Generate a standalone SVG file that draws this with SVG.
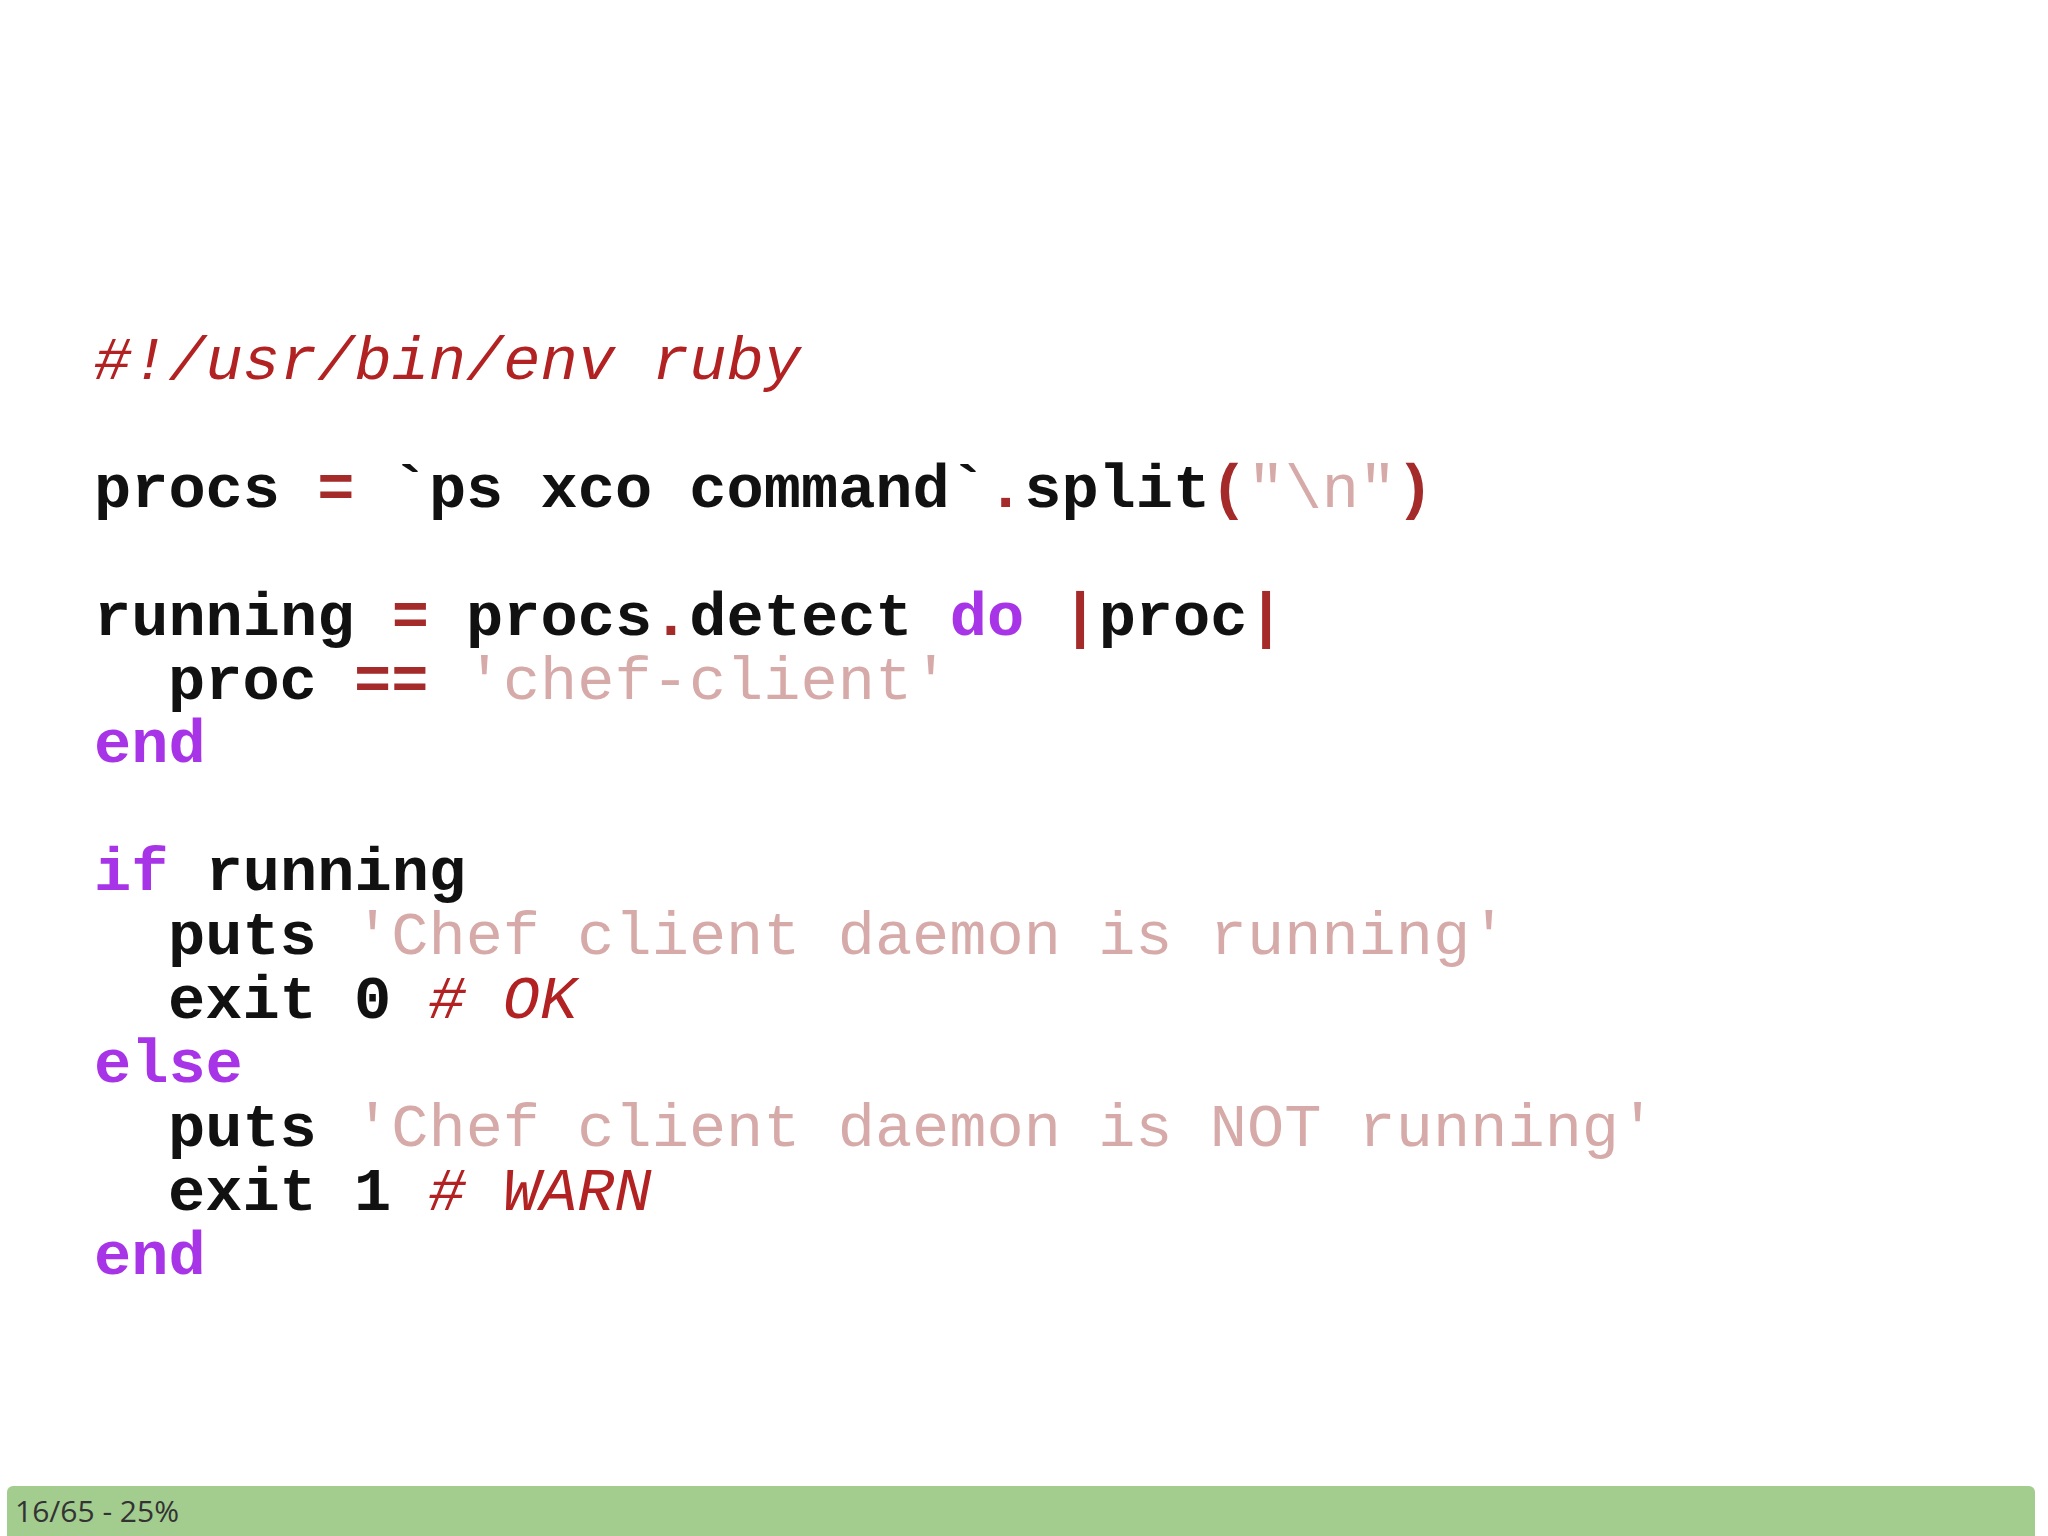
<svg xmlns="http://www.w3.org/2000/svg" width="2048" height="1536" viewBox="0 0 2048 1536">
<style>
.c{font-family:"Liberation Mono","Courier New",monospace;font-size:62px;font-weight:bold;fill:#111}
.cm{fill:#b22222;font-style:italic;font-weight:normal}
.kw{fill:#a834e8}
.st{fill:#d6aaa8;font-weight:normal}
.op{fill:#a52a2a}
</style>
<rect width="2048" height="1536" fill="#ffffff"/>
<g id="code" class="c">
<text x="94" y="379"><tspan class="cm">#!/usr/bin/env ruby</tspan></text>
<text x="94" y="507">procs <tspan class="op">=</tspan> `ps xco command`<tspan class="op">.</tspan>split<tspan class="op">(</tspan><tspan class="st">"\n"</tspan><tspan class="op">)</tspan></text>
<text x="94" y="635">running <tspan class="op">=</tspan> procs<tspan class="op">.</tspan>detect <tspan class="kw">do</tspan> <tspan class="op">|</tspan>proc<tspan class="op">|</tspan></text>
<text x="168" y="699">proc <tspan class="op">==</tspan> <tspan class="st">'chef-client'</tspan></text>
<text x="94" y="762"><tspan class="kw">end</tspan></text>
<text x="94" y="890"><tspan class="kw">if</tspan> running</text>
<text x="168" y="954">puts <tspan class="st">'Chef client daemon is running'</tspan></text>
<text x="168" y="1018">exit 0 <tspan class="cm"># OK</tspan></text>
<text x="94" y="1082"><tspan class="kw">else</tspan></text>
<text x="168" y="1146">puts <tspan class="st">'Chef client daemon is NOT running'</tspan></text>
<text x="168" y="1210">exit 1 <tspan class="cm"># WARN</tspan></text>
<text x="94" y="1274"><tspan class="kw">end</tspan></text>
</g>
<g id="statusbar">
<path d="M7,1536 V1492 a6,6 0 0 1 6,-6 H2029 a6,6 0 0 1 6,6 V1536 Z" fill="#a3cc8f"/>
<text x="15" y="1522" font-family="'Open Sans',sans-serif" font-size="30" fill="#333">16/65 - 25%</text>
</g>
</svg>
